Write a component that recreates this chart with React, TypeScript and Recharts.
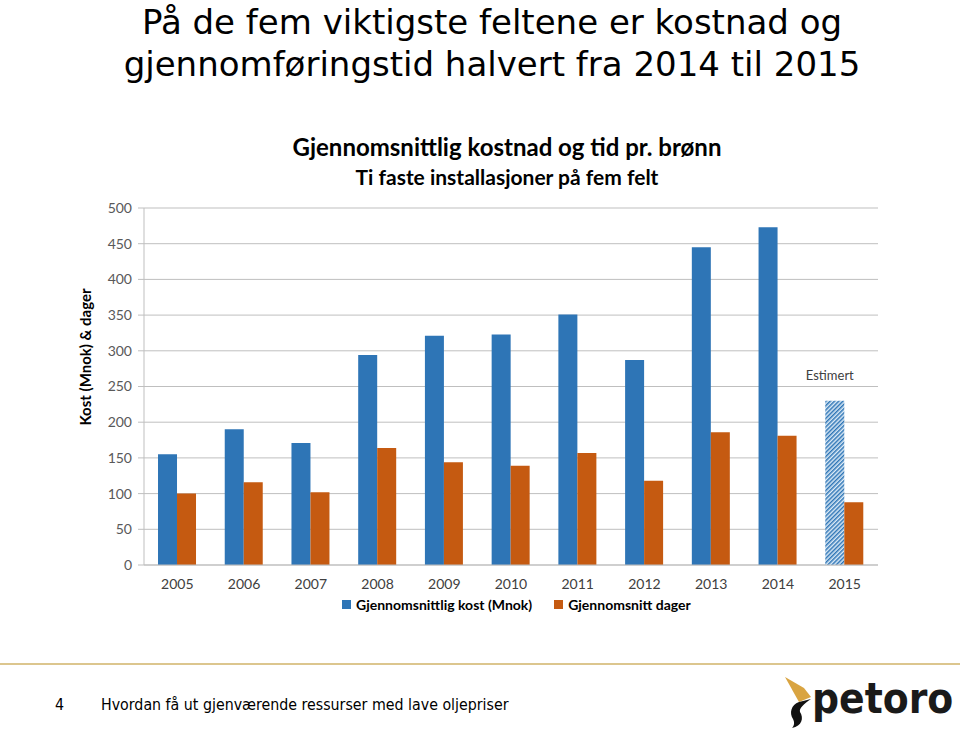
import React from "react";
import {
  BarChart,
  Bar,
  XAxis,
  YAxis,
  CartesianGrid,
  Cell,
  LabelList,
} from "recharts";

// Years on the x axis
const years = ["2005", "2006", "2007", "2008", "2009", "2010", "2011", "2012", "2013", "2014", "2015"];
// Average cost per well (MNOK)
const costMnok = [155, 190, 171, 294, 321, 323, 351, 287, 445, 473, 230];
// Average days per well
const days = [100, 116, 102, 164, 144, 139, 157, 118, 186, 181, 88];
const yTicks = [0, 50, 100, 150, 200, 250, 300, 350, 400, 450, 500];
const estimatedYear = "2015";

const BLUE = "#2E75B6";
const ORANGE = "#C55A11";
const CHART_FONT = "Lato, 'Open Sans', sans-serif";

const data = years.map((year, i) => ({ year, cost: costMnok[i], days: days[i] }));

function EstimateLabel(props: any) {
  const { x, y, width, index } = props;
  if (years[index] !== estimatedYear) return null;
  return (
    <text
      x={x + width / 2 - 5}
      y={y - 21}
      textAnchor="middle"
      fontFamily={CHART_FONT}
      fontSize={13}
      fill="#404040"
    >
      Estimert
    </text>
  );
}

// rotated axis title, sits a bit above the middle of the plot like the original
function AxisTitle() {
  return (
    <text
      transform="translate(91, 357) rotate(-90)"
      textAnchor="middle"
      fontFamily={CHART_FONT}
      fontSize={15}
      fontWeight={700}
      fill="#000"
    >
      Kost (Mnok)  &amp;  dager
    </text>
  );
}

function PetoroLogo() {
  return (
    <div style={{ position: "absolute", left: 782, top: 676, width: 178, height: 53 }}>
      <svg width={32} height={53} style={{ position: "absolute", left: 0, top: 0 }}>
        <path d="M3 1 L22 12 L29 21 L17 26 Z" fill="#D9A441" />
        <path d="M17 26 C9 29 7 37 11 43 C13 47 12 50 10 52 C20 50 22 42 18 36 C17 32 22 28 29 23 Z" fill="#111" />
      </svg>
      <div
        style={{
          position: "absolute",
          left: 30,
          top: -3,
          fontFamily: "'DejaVu Sans Condensed', 'DejaVu Sans', sans-serif",
          fontWeight: 700,
          fontSize: 42,
          color: "#1a1a1a",
          lineHeight: "52px",
          whiteSpace: "nowrap",
        }}
      >
        petoro
      </div>
    </div>
  );
}

export default function App() {
  return (
    <div
      style={{
        position: "absolute",
        left: 0,
        top: 0,
        width: 960,
        height: 729,
        background: "#fff",
        overflow: "hidden",
      }}
    >
      {/* Slide title */}
      <div
        style={{
          position: "absolute",
          left: 0,
          top: 1,
          width: 984,
          textAlign: "center",
          fontFamily: "'DejaVu Sans', Verdana, sans-serif",
          fontSize: 34,
          lineHeight: "42px",
          color: "#000",
        }}
      >
        På de fem viktigste feltene er kostnad og
        <br />
        gjennomføringstid halvert fra 2014 til 2015
      </div>

      {/* Chart titles */}
      <div
        style={{
          position: "absolute",
          left: 0,
          top: 131,
          width: 1014,
          textAlign: "center",
          fontFamily: CHART_FONT,
          fontWeight: 700,
          color: "#000",
        }}
      >
        <div style={{ fontSize: 24, lineHeight: "31px" }}>Gjennomsnittlig kostnad og tid pr. brønn</div>
        <div style={{ fontSize: 21, lineHeight: "30px" }}>Ti faste installasjoner på fem felt</div>
      </div>

      <div style={{ position: "absolute", left: 0, top: 0 }}>
        <BarChart
          width={960}
          height={729}
          data={data}
          margin={{ top: 208, right: 82, bottom: 134, left: 56 }}
          barCategoryGap="21%"
          barGap={0}
        >
          <defs>
            <pattern
              id="hatch"
              width={3}
              height={3}
              patternUnits="userSpaceOnUse"
              patternTransform="rotate(45)"
            >
              <rect width={3} height={3} fill="#DDEBF7" />
              <rect width={1.5} height={3} fill={BLUE} />
            </pattern>
          </defs>
          <CartesianGrid vertical={false} stroke="#bfbfbf" />
          <XAxis
            dataKey="year"
            height={30}
            axisLine={{ stroke: "#bfbfbf" }}
            tickLine={false}
            tick={{ fontFamily: CHART_FONT, fontSize: 14, fill: "#404040" }}
            tickMargin={8}
          />
          <YAxis
            width={88}
            domain={[0, 500]}
            ticks={yTicks}
            interval={0}
            axisLine={{ stroke: "#bfbfbf" }}
            tickLine={{ stroke: "#bfbfbf" }}
            tickSize={6}
            tickMargin={6}
            tick={{ fontFamily: CHART_FONT, fontSize: 14, fill: "#595959" }}
          />
          <AxisTitle />
          <Bar dataKey="cost" fill={BLUE} isAnimationActive={false}>
            {data.map((d) => (
              <Cell key={d.year} fill={d.year === estimatedYear ? "url(#hatch)" : BLUE} />
            ))}
            <LabelList dataKey="cost" content={<EstimateLabel />} />
          </Bar>
          <Bar dataKey="days" fill={ORANGE} isAnimationActive={false} />
        </BarChart>
      </div>

      {/* Legend */}
      <div
        style={{
          position: "absolute",
          left: 342,
          top: 596,
          display: "flex",
          alignItems: "center",
          fontFamily: CHART_FONT,
          fontWeight: 700,
          fontSize: 14,
          color: "#000",
        }}
      >
        <span style={{ width: 9, height: 9, background: BLUE, marginRight: 5 }} />
        <span>Gjennomsnittlig kost (Mnok)</span>
        <span style={{ width: 9, height: 9, background: ORANGE, marginLeft: 22, marginRight: 5 }} />
        <span>Gjennomsnitt dager</span>
      </div>

      {/* Footer */}
      <div
        style={{
          position: "absolute",
          left: 0,
          top: 663,
          width: 960,
          height: 2,
          background: "#DCC68E",
        }}
      />
      <div
        style={{
          position: "absolute",
          left: 55,
          top: 695,
          fontFamily: "'DejaVu Sans Condensed', 'DejaVu Sans', sans-serif",
          fontSize: 15.8,
          color: "#000",
        }}
      >
        4
      </div>
      <div
        style={{
          position: "absolute",
          left: 101,
          top: 695,
          fontFamily: "'DejaVu Sans Condensed', 'DejaVu Sans', sans-serif",
          fontSize: 15.8,
          color: "#000",
          whiteSpace: "nowrap",
        }}
      >
        Hvordan få ut gjenværende ressurser med lave oljepriser
      </div>
      <PetoroLogo />
    </div>
  );
}
